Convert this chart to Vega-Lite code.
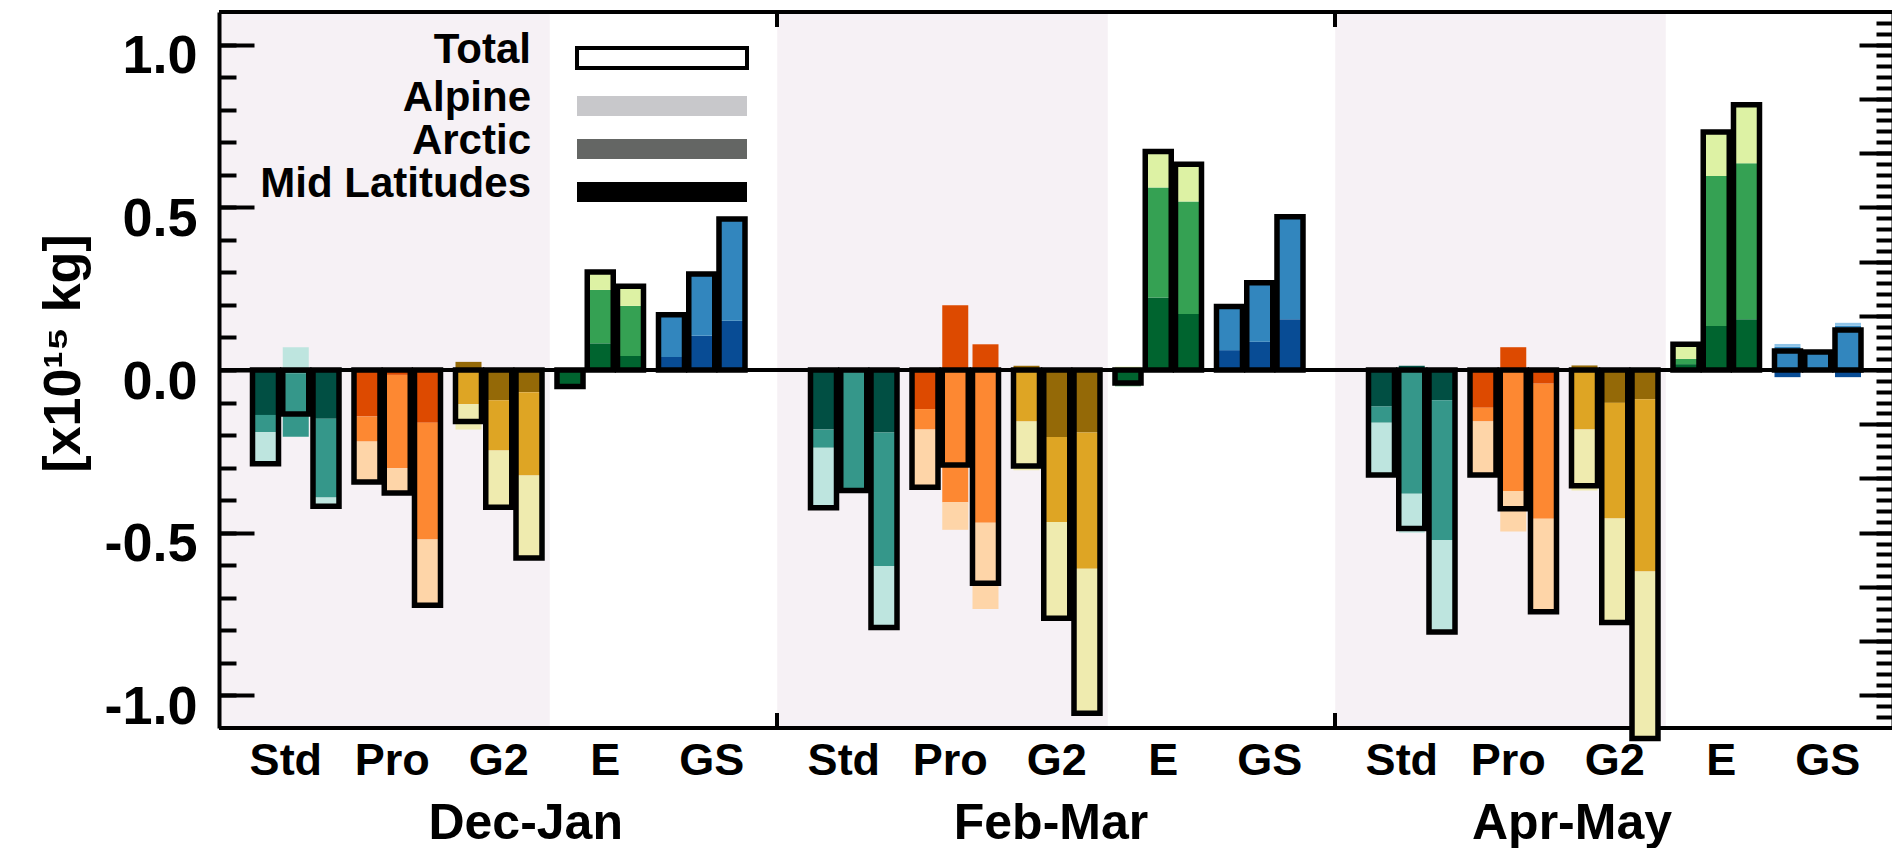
{
  "$schema": "https://vega.github.io/schema/vega-lite/v6.json",
  "background": "white",
  "padding": {"left": 37, "top": 10, "right": 1, "bottom": 0},
  "width": 1674,
  "height": 716,
  "data": {"values": [
    {"season":"Dec-Jan","model":"Std","run":1,"component":"Mid Latitudes","value":-0.138},
    {"season":"Dec-Jan","model":"Std","run":1,"component":"Arctic","value":-0.053},
    {"season":"Dec-Jan","model":"Std","run":1,"component":"Alpine","value":-0.097},
    {"season":"Dec-Jan","model":"Std","run":2,"component":"Mid Latitudes","value":-0.010},
    {"season":"Dec-Jan","model":"Std","run":2,"component":"Arctic","value":-0.195},
    {"season":"Dec-Jan","model":"Std","run":2,"component":"Alpine","value":0.070},
    {"season":"Dec-Jan","model":"Std","run":3,"component":"Mid Latitudes","value":-0.150},
    {"season":"Dec-Jan","model":"Std","run":3,"component":"Arctic","value":-0.242},
    {"season":"Dec-Jan","model":"Std","run":3,"component":"Alpine","value":-0.027},
    {"season":"Dec-Jan","model":"Pro","run":1,"component":"Mid Latitudes","value":-0.143},
    {"season":"Dec-Jan","model":"Pro","run":1,"component":"Arctic","value":-0.077},
    {"season":"Dec-Jan","model":"Pro","run":1,"component":"Alpine","value":-0.124},
    {"season":"Dec-Jan","model":"Pro","run":2,"component":"Mid Latitudes","value":-0.015},
    {"season":"Dec-Jan","model":"Pro","run":2,"component":"Arctic","value":-0.287},
    {"season":"Dec-Jan","model":"Pro","run":2,"component":"Alpine","value":-0.076},
    {"season":"Dec-Jan","model":"Pro","run":3,"component":"Mid Latitudes","value":-0.162},
    {"season":"Dec-Jan","model":"Pro","run":3,"component":"Arctic","value":-0.359},
    {"season":"Dec-Jan","model":"Pro","run":3,"component":"Alpine","value":-0.202},
    {"season":"Dec-Jan","model":"G2","run":1,"component":"Mid Latitudes","value":0.025},
    {"season":"Dec-Jan","model":"G2","run":1,"component":"Arctic","value":-0.105},
    {"season":"Dec-Jan","model":"G2","run":1,"component":"Alpine","value":-0.078},
    {"season":"Dec-Jan","model":"G2","run":2,"component":"Mid Latitudes","value":-0.093},
    {"season":"Dec-Jan","model":"G2","run":2,"component":"Arctic","value":-0.154},
    {"season":"Dec-Jan","model":"G2","run":2,"component":"Alpine","value":-0.175},
    {"season":"Dec-Jan","model":"G2","run":3,"component":"Mid Latitudes","value":-0.068},
    {"season":"Dec-Jan","model":"G2","run":3,"component":"Arctic","value":-0.256},
    {"season":"Dec-Jan","model":"G2","run":3,"component":"Alpine","value":-0.254},
    {"season":"Dec-Jan","model":"E","run":1,"component":"Mid Latitudes","value":-0.045},
    {"season":"Dec-Jan","model":"E","run":1,"component":"Arctic","value":-0.006},
    {"season":"Dec-Jan","model":"E","run":1,"component":"Alpine","value":0},
    {"season":"Dec-Jan","model":"E","run":2,"component":"Mid Latitudes","value":0.082},
    {"season":"Dec-Jan","model":"E","run":2,"component":"Arctic","value":0.164},
    {"season":"Dec-Jan","model":"E","run":2,"component":"Alpine","value":0.055},
    {"season":"Dec-Jan","model":"E","run":3,"component":"Mid Latitudes","value":0.043},
    {"season":"Dec-Jan","model":"E","run":3,"component":"Arctic","value":0.154},
    {"season":"Dec-Jan","model":"E","run":3,"component":"Alpine","value":0.060},
    {"season":"Dec-Jan","model":"GS","run":1,"component":"Mid Latitudes","value":0.040},
    {"season":"Dec-Jan","model":"GS","run":1,"component":"Arctic","value":0.130},
    {"season":"Dec-Jan","model":"GS","run":1,"component":"Alpine","value":0},
    {"season":"Dec-Jan","model":"GS","run":2,"component":"Mid Latitudes","value":0.105},
    {"season":"Dec-Jan","model":"GS","run":2,"component":"Arctic","value":0.190},
    {"season":"Dec-Jan","model":"GS","run":2,"component":"Alpine","value":0},
    {"season":"Dec-Jan","model":"GS","run":3,"component":"Mid Latitudes","value":0.151},
    {"season":"Dec-Jan","model":"GS","run":3,"component":"Arctic","value":0.313},
    {"season":"Dec-Jan","model":"GS","run":3,"component":"Alpine","value":0},
    {"season":"Feb-Mar","model":"Std","run":1,"component":"Mid Latitudes","value":-0.183},
    {"season":"Feb-Mar","model":"Std","run":1,"component":"Arctic","value":-0.056},
    {"season":"Feb-Mar","model":"Std","run":1,"component":"Alpine","value":-0.184},
    {"season":"Feb-Mar","model":"Std","run":2,"component":"Mid Latitudes","value":-0.008},
    {"season":"Feb-Mar","model":"Std","run":2,"component":"Arctic","value":-0.362},
    {"season":"Feb-Mar","model":"Std","run":2,"component":"Alpine","value":0},
    {"season":"Feb-Mar","model":"Std","run":3,"component":"Mid Latitudes","value":-0.192},
    {"season":"Feb-Mar","model":"Std","run":3,"component":"Arctic","value":-0.410},
    {"season":"Feb-Mar","model":"Std","run":3,"component":"Alpine","value":-0.189},
    {"season":"Feb-Mar","model":"Pro","run":1,"component":"Mid Latitudes","value":-0.120},
    {"season":"Feb-Mar","model":"Pro","run":1,"component":"Arctic","value":-0.063},
    {"season":"Feb-Mar","model":"Pro","run":1,"component":"Alpine","value":-0.177},
    {"season":"Feb-Mar","model":"Pro","run":2,"component":"Mid Latitudes","value":0.199},
    {"season":"Feb-Mar","model":"Pro","run":2,"component":"Arctic","value":-0.406},
    {"season":"Feb-Mar","model":"Pro","run":2,"component":"Alpine","value":-0.085},
    {"season":"Feb-Mar","model":"Pro","run":3,"component":"Mid Latitudes","value":0.079},
    {"season":"Feb-Mar","model":"Pro","run":3,"component":"Arctic","value":-0.469},
    {"season":"Feb-Mar","model":"Pro","run":3,"component":"Alpine","value":-0.265},
    {"season":"Feb-Mar","model":"G2","run":1,"component":"Mid Latitudes","value":0.013},
    {"season":"Feb-Mar","model":"G2","run":1,"component":"Arctic","value":-0.158},
    {"season":"Feb-Mar","model":"G2","run":1,"component":"Alpine","value":-0.150},
    {"season":"Feb-Mar","model":"G2","run":2,"component":"Mid Latitudes","value":-0.206},
    {"season":"Feb-Mar","model":"G2","run":2,"component":"Arctic","value":-0.261},
    {"season":"Feb-Mar","model":"G2","run":2,"component":"Alpine","value":-0.296},
    {"season":"Feb-Mar","model":"G2","run":3,"component":"Mid Latitudes","value":-0.192},
    {"season":"Feb-Mar","model":"G2","run":3,"component":"Arctic","value":-0.419},
    {"season":"Feb-Mar","model":"G2","run":3,"component":"Alpine","value":-0.444},
    {"season":"Feb-Mar","model":"E","run":1,"component":"Mid Latitudes","value":-0.047},
    {"season":"Feb-Mar","model":"E","run":1,"component":"Arctic","value":-0.003},
    {"season":"Feb-Mar","model":"E","run":1,"component":"Alpine","value":0.010},
    {"season":"Feb-Mar","model":"E","run":2,"component":"Mid Latitudes","value":0.223},
    {"season":"Feb-Mar","model":"E","run":2,"component":"Arctic","value":0.338},
    {"season":"Feb-Mar","model":"E","run":2,"component":"Alpine","value":0.110},
    {"season":"Feb-Mar","model":"E","run":3,"component":"Mid Latitudes","value":0.172},
    {"season":"Feb-Mar","model":"E","run":3,"component":"Arctic","value":0.346},
    {"season":"Feb-Mar","model":"E","run":3,"component":"Alpine","value":0.114},
    {"season":"Feb-Mar","model":"GS","run":1,"component":"Mid Latitudes","value":0.061},
    {"season":"Feb-Mar","model":"GS","run":1,"component":"Arctic","value":0.134},
    {"season":"Feb-Mar","model":"GS","run":1,"component":"Alpine","value":0},
    {"season":"Feb-Mar","model":"GS","run":2,"component":"Mid Latitudes","value":0.087},
    {"season":"Feb-Mar","model":"GS","run":2,"component":"Arctic","value":0.181},
    {"season":"Feb-Mar","model":"GS","run":2,"component":"Alpine","value":0},
    {"season":"Feb-Mar","model":"GS","run":3,"component":"Mid Latitudes","value":0.156},
    {"season":"Feb-Mar","model":"GS","run":3,"component":"Arctic","value":0.315},
    {"season":"Feb-Mar","model":"GS","run":3,"component":"Alpine","value":0},
    {"season":"Apr-May","model":"Std","run":1,"component":"Mid Latitudes","value":-0.112},
    {"season":"Apr-May","model":"Std","run":1,"component":"Arctic","value":-0.050},
    {"season":"Apr-May","model":"Std","run":1,"component":"Alpine","value":-0.161},
    {"season":"Apr-May","model":"Std","run":2,"component":"Mid Latitudes","value":0.013},
    {"season":"Apr-May","model":"Std","run":2,"component":"Arctic","value":-0.380},
    {"season":"Apr-May","model":"Std","run":2,"component":"Alpine","value":-0.120},
    {"season":"Apr-May","model":"Std","run":3,"component":"Mid Latitudes","value":-0.093},
    {"season":"Apr-May","model":"Std","run":3,"component":"Arctic","value":-0.429},
    {"season":"Apr-May","model":"Std","run":3,"component":"Alpine","value":-0.283},
    {"season":"Apr-May","model":"Pro","run":1,"component":"Mid Latitudes","value":-0.116},
    {"season":"Apr-May","model":"Pro","run":1,"component":"Arctic","value":-0.042},
    {"season":"Apr-May","model":"Pro","run":1,"component":"Alpine","value":-0.165},
    {"season":"Apr-May","model":"Pro","run":2,"component":"Mid Latitudes","value":0.070},
    {"season":"Apr-May","model":"Pro","run":2,"component":"Arctic","value":-0.372},
    {"season":"Apr-May","model":"Pro","run":2,"component":"Alpine","value":-0.124},
    {"season":"Apr-May","model":"Pro","run":3,"component":"Mid Latitudes","value":-0.042},
    {"season":"Apr-May","model":"Pro","run":3,"component":"Arctic","value":-0.415},
    {"season":"Apr-May","model":"Pro","run":3,"component":"Alpine","value":-0.286},
    {"season":"Apr-May","model":"G2","run":1,"component":"Mid Latitudes","value":0.014},
    {"season":"Apr-May","model":"G2","run":1,"component":"Arctic","value":-0.183},
    {"season":"Apr-May","model":"G2","run":1,"component":"Alpine","value":-0.187},
    {"season":"Apr-May","model":"G2","run":2,"component":"Mid Latitudes","value":-0.101},
    {"season":"Apr-May","model":"G2","run":2,"component":"Arctic","value":-0.355},
    {"season":"Apr-May","model":"G2","run":2,"component":"Alpine","value":-0.320},
    {"season":"Apr-May","model":"G2","run":3,"component":"Mid Latitudes","value":-0.090},
    {"season":"Apr-May","model":"G2","run":3,"component":"Arctic","value":-0.529},
    {"season":"Apr-May","model":"G2","run":3,"component":"Alpine","value":-0.513},
    {"season":"Apr-May","model":"E","run":1,"component":"Mid Latitudes","value":0.018},
    {"season":"Apr-May","model":"E","run":1,"component":"Arctic","value":0.016},
    {"season":"Apr-May","model":"E","run":1,"component":"Alpine","value":0.045},
    {"season":"Apr-May","model":"E","run":2,"component":"Mid Latitudes","value":0.135},
    {"season":"Apr-May","model":"E","run":2,"component":"Arctic","value":0.461},
    {"season":"Apr-May","model":"E","run":2,"component":"Alpine","value":0.135},
    {"season":"Apr-May","model":"E","run":3,"component":"Mid Latitudes","value":0.156},
    {"season":"Apr-May","model":"E","run":3,"component":"Arctic","value":0.479},
    {"season":"Apr-May","model":"E","run":3,"component":"Alpine","value":0.180},
    {"season":"Apr-May","model":"GS","run":1,"component":"Mid Latitudes","value":-0.022},
    {"season":"Apr-May","model":"GS","run":1,"component":"Arctic","value":0.071},
    {"season":"Apr-May","model":"GS","run":1,"component":"Alpine","value":0.009},
    {"season":"Apr-May","model":"GS","run":2,"component":"Mid Latitudes","value":-0.004},
    {"season":"Apr-May","model":"GS","run":2,"component":"Arctic","value":0.059},
    {"season":"Apr-May","model":"GS","run":2,"component":"Alpine","value":0},
    {"season":"Apr-May","model":"GS","run":3,"component":"Mid Latitudes","value":-0.022},
    {"season":"Apr-May","model":"GS","run":3,"component":"Arctic","value":0.136},
    {"season":"Apr-May","model":"GS","run":3,"component":"Alpine","value":0.009}
  ]},
  "transform": [
    {"stack": "value", "groupby": ["season", "model", "run"], "sort": [{"field": "component", "order": "descending"}], "as": ["v0", "v1"]}
  ],
  "resolve": {"scale": {"fill": "independent", "xOffset": "independent"}, "axis": {"x": "independent", "y": "independent"}},
  "layer": [
    {"transform": [{"filter": "datum.season === 'Dec-Jan' && datum.model === 'Std' && datum.run === 1 && datum.component === 'Arctic'"}],
     "mark": {"type": "rule", "stroke": "black", "strokeWidth": 4},
     "encoding": {"y": {"datum": 1.1, "type": "quantitative", "scale": {"domain": [-1.1, 1.1], "nice": false, "zero": false},
       "axis": {"orient": "left", "values": [-1, -0.5, 0, 0.5, 1], "ticks": true, "tickSize": -35, "tickWidth": 4, "tickColor": "black", "labels": false, "domain": false, "grid": false, "title": null, "zindex": 2}}}},
    {"transform": [{"filter": "datum.season === 'Dec-Jan' && datum.model === 'Std' && datum.run === 1 && datum.component === 'Arctic'"}],
     "mark": {"type": "rule", "stroke": "black", "strokeWidth": 4},
     "encoding": {"y": {"datum": 0, "type": "quantitative", "scale": {"domain": [-1.1, 1.1], "nice": false, "zero": false},
       "axis": {"orient": "left", "values": [-1, -0.9, -0.8, -0.7, -0.6, -0.5, -0.4, -0.3, -0.2, -0.1, 0, 0.1, 0.2, 0.3, 0.4, 0.5, 0.6, 0.7, 0.8, 0.9, 1], "ticks": true, "tickSize": -17, "tickWidth": 4, "tickColor": "black", "labels": false, "domain": false, "grid": false, "title": null, "zindex": 2}}}},
    {"transform": [{"filter": "datum.season === 'Dec-Jan' && datum.model === 'Std' && datum.run === 1 && datum.component === 'Arctic'"}],
     "mark": {"type": "rule", "stroke": "black", "strokeWidth": 4},
     "encoding": {"y": {"datum": -1.1, "type": "quantitative", "scale": {"domain": [-1.1, 1.1], "nice": false, "zero": false},
       "axis": {"orient": "right", "values": [-1, -0.8333, -0.6667, -0.5, -0.3333, -0.1667, 0, 0.1667, 0.3333, 0.5, 0.6667, 0.8333, 1], "ticks": true, "tickSize": -34, "tickWidth": 4, "tickColor": "black", "labels": false, "domain": true, "domainColor": "black", "domainWidth": 4, "grid": false, "title": null, "zindex": 2}}}},
    {"transform": [{"filter": "datum.season !== 'Dec-Jan' && datum.model === 'Std' && datum.run === 1 && datum.component === 'Arctic'"}],
     "mark": {"type": "rule", "stroke": "black", "strokeWidth": 4},
     "encoding": {
       "x": {"field": "season", "type": "nominal", "bandPosition": 0, "scale": {"domain": ["Dec-Jan", "Feb-Mar", "Apr-May"], "paddingInner": 0, "paddingOuter": 0},
         "axis": {"orient": "bottom", "bandPosition": 0.2961, "grid": true, "gridColor": "#f6f1f5", "gridOpacity": 1, "gridWidth": 330.5, "ticks": false, "labels": false, "domain": false, "title": null, "zindex": 0}},
       "y": {"datum": 1.1, "type": "quantitative", "scale": {"domain": [-1.1, 1.1], "nice": false, "zero": false},
         "axis": {"orient": "right", "values": [-1.0667,-1.0333,-1,-0.9667,-0.9333,-0.9,-0.8667,-0.8333,-0.8,-0.7667,-0.7333,-0.7,-0.6667,-0.6333,-0.6,-0.5667,-0.5333,-0.5,-0.4667,-0.4333,-0.4,-0.3667,-0.3333,-0.3,-0.2667,-0.2333,-0.2,-0.1667,-0.1333,-0.1,-0.0667,-0.0333,0,0.0333,0.0667,0.1,0.1333,0.1667,0.2,0.2333,0.2667,0.3,0.3333,0.3667,0.4,0.4333,0.4667,0.5,0.5333,0.5667,0.6,0.6333,0.6667,0.7,0.7333,0.7667,0.8,0.8333,0.8667,0.9,0.9333,0.9667,1,1.0333,1.0667], "ticks": true, "tickSize": -17, "tickWidth": 4, "tickColor": "black", "labels": false, "domain": false, "grid": false, "title": null, "zindex": 2}},
       "y2": {"datum": 1.0539}}},
    {"transform": [{"filter": "datum.season !== 'Dec-Jan' && datum.model === 'Std' && datum.run === 1 && datum.component === 'Arctic'"}],
     "mark": {"type": "rule", "stroke": "black", "strokeWidth": 4},
     "encoding": {
       "x": {"field": "season", "type": "nominal", "bandPosition": 0,
         "axis": {"orient": "bottom", "ticks": false, "domain": false, "grid": false, "labelFont": "Liberation Sans", "labelFontSize": 50, "labelFontWeight": "bold", "labelColor": "black", "labelPadding": 110, "labelBaseline": "alphabetic", "labelAngle": 0, "labelAlign": "center", "labelOverlap": false, "labelLimit": 600,
           "labelOffset": {"condition": [{"test": "datum.value === 'Dec-Jan'", "value": 27.7}, {"test": "datum.value === 'Feb-Mar'", "value": -5}], "value": -42},
           "title": null, "zindex": 1}},
       "y": {"datum": -1.1, "type": "quantitative", "scale": {"domain": [-1.1, 1.1], "nice": false, "zero": false}, "axis": null},
       "y2": {"datum": -1.0539}}},
    {"transform": [{"filter": "datum.run === 1 && datum.component === 'Mid Latitudes'"}],
     "mark": {"type": "bar"},
     "encoding": {
       "x": {"field": "season", "type": "nominal", "axis": null},
       "xOffset": {"field": "model", "type": "nominal", "scale": {"domain": ["Std","Pro","G2","E","GS"], "paddingInner": 0.7438, "paddingOuter": 0.6207, "align": 0.2659}},
       "y": {"field": "v0", "type": "quantitative", "scale": {"domain": [-1.1, 1.1], "nice": false, "zero": false},
         "axis": {"orient": "left", "values": [-1, -0.5, 0, 0.5, 1], "labelExpr": "datum.value < 0 ? '-' + format(-datum.value, '.1f') : format(datum.value, '.1f')", "ticks": false, "domain": true, "domainColor": "black", "domainWidth": 4, "labelFont": "Liberation Sans", "labelFontSize": 54, "labelFontWeight": "bold", "labelColor": "black", "labelPadding": 22, "labelBaseline": "alphabetic", "labelOffset": 28, "grid": false, "title": "[x10¹⁵ kg]", "titleFont": "Liberation Sans", "titleFontSize": 52, "titleFontWeight": "bold", "titleColor": "black", "titleX": -156, "titleY": 341, "titleAngle": -90, "titleAlign": "center", "titleBaseline": "middle", "zindex": 2}},
       "y2": {"field": "v1"},
       "fill": {"field": "model", "type": "nominal", "scale": {"domain": ["Std","Pro","G2","E","GS"], "range": ["#014f43","#dd4a00","#946907","#00642f","#084c95"]}, "legend": null}
     }},
    {"transform": [{"filter": "datum.run === 2 && datum.component === 'Mid Latitudes'"}],
     "mark": {"type": "bar"},
     "encoding": {"x": {"field": "season", "type": "nominal", "axis": null},
       "xOffset": {"field": "model", "type": "nominal", "scale": {"domain": ["Std","Pro","G2","E","GS"], "paddingInner": 0.7438, "paddingOuter": 0.6207, "align": 0.506}},
       "y": {"field": "v0", "type": "quantitative", "scale": {"domain": [-1.1, 1.1], "nice": false, "zero": false}, "axis": null}, "y2": {"field": "v1"},
       "fill": {"field": "model", "type": "nominal", "scale": {"domain": ["Std","Pro","G2","E","GS"], "range": ["#014f43","#dd4a00","#946907","#00642f","#084c95"]}, "legend": null}}},
    {"transform": [{"filter": "datum.run === 3 && datum.component === 'Mid Latitudes'"}],
     "mark": {"type": "bar"},
     "encoding": {"x": {"field": "season", "type": "nominal", "axis": null},
       "xOffset": {"field": "model", "type": "nominal", "scale": {"domain": ["Std","Pro","G2","E","GS"], "paddingInner": 0.7438, "paddingOuter": 0.6207, "align": 0.746}},
       "y": {"field": "v0", "type": "quantitative", "scale": {"domain": [-1.1, 1.1], "nice": false, "zero": false}, "axis": null}, "y2": {"field": "v1"},
       "fill": {"field": "model", "type": "nominal", "scale": {"domain": ["Std","Pro","G2","E","GS"], "range": ["#014f43","#dd4a00","#946907","#00642f","#084c95"]}, "legend": null}}},
    {"transform": [{"filter": "datum.run === 1 && datum.component === 'Arctic'"}],
     "mark": {"type": "bar"},
     "encoding": {"x": {"field": "season", "type": "nominal", "axis": null},
       "xOffset": {"field": "model", "type": "nominal", "scale": {"domain": ["Std","Pro","G2","E","GS"], "paddingInner": 0.7438, "paddingOuter": 0.6207, "align": 0.2659}},
       "y": {"field": "v0", "type": "quantitative", "scale": {"domain": [-1.1, 1.1], "nice": false, "zero": false}, "axis": null}, "y2": {"field": "v1"},
       "fill": {"field": "model", "type": "nominal", "scale": {"domain": ["Std","Pro","G2","E","GS"], "range": ["#35978a","#fd8832","#dea524","#35a153","#3286be"]}, "legend": null}}},
    {"transform": [{"filter": "datum.run === 2 && datum.component === 'Arctic'"}],
     "mark": {"type": "bar"},
     "encoding": {"x": {"field": "season", "type": "nominal", "axis": null},
       "xOffset": {"field": "model", "type": "nominal", "scale": {"domain": ["Std","Pro","G2","E","GS"], "paddingInner": 0.7438, "paddingOuter": 0.6207, "align": 0.506}},
       "y": {"field": "v0", "type": "quantitative", "scale": {"domain": [-1.1, 1.1], "nice": false, "zero": false}, "axis": null}, "y2": {"field": "v1"},
       "fill": {"field": "model", "type": "nominal", "scale": {"domain": ["Std","Pro","G2","E","GS"], "range": ["#35978a","#fd8832","#dea524","#35a153","#3286be"]}, "legend": null}}},
    {"transform": [{"filter": "datum.run === 3 && datum.component === 'Arctic'"}],
     "mark": {"type": "bar"},
     "encoding": {"x": {"field": "season", "type": "nominal", "axis": null},
       "xOffset": {"field": "model", "type": "nominal", "scale": {"domain": ["Std","Pro","G2","E","GS"], "paddingInner": 0.7438, "paddingOuter": 0.6207, "align": 0.746}},
       "y": {"field": "v0", "type": "quantitative", "scale": {"domain": [-1.1, 1.1], "nice": false, "zero": false}, "axis": null}, "y2": {"field": "v1"},
       "fill": {"field": "model", "type": "nominal", "scale": {"domain": ["Std","Pro","G2","E","GS"], "range": ["#35978a","#fd8832","#dea524","#35a153","#3286be"]}, "legend": null}}},
    {"transform": [{"filter": "datum.run === 1 && datum.component === 'Alpine'"}],
     "mark": {"type": "bar"},
     "encoding": {"x": {"field": "season", "type": "nominal", "axis": null},
       "xOffset": {"field": "model", "type": "nominal", "scale": {"domain": ["Std","Pro","G2","E","GS"], "paddingInner": 0.7438, "paddingOuter": 0.6207, "align": 0.2659}},
       "y": {"field": "v0", "type": "quantitative", "scale": {"domain": [-1.1, 1.1], "nice": false, "zero": false}, "axis": null}, "y2": {"field": "v1"},
       "fill": {"field": "model", "type": "nominal", "scale": {"domain": ["Std","Pro","G2","E","GS"], "range": ["#bee5df","#fed5a8","#efebaf","#ddf2a4","#8fc4e8"]}, "legend": null}}},
    {"transform": [{"filter": "datum.run === 2 && datum.component === 'Alpine'"}],
     "mark": {"type": "bar"},
     "encoding": {"x": {"field": "season", "type": "nominal", "axis": null},
       "xOffset": {"field": "model", "type": "nominal", "scale": {"domain": ["Std","Pro","G2","E","GS"], "paddingInner": 0.7438, "paddingOuter": 0.6207, "align": 0.506}},
       "y": {"field": "v0", "type": "quantitative", "scale": {"domain": [-1.1, 1.1], "nice": false, "zero": false}, "axis": null}, "y2": {"field": "v1"},
       "fill": {"field": "model", "type": "nominal", "scale": {"domain": ["Std","Pro","G2","E","GS"], "range": ["#bee5df","#fed5a8","#efebaf","#ddf2a4","#8fc4e8"]}, "legend": null}}},
    {"transform": [{"filter": "datum.run === 3 && datum.component === 'Alpine'"}],
     "mark": {"type": "bar"},
     "encoding": {"x": {"field": "season", "type": "nominal", "axis": null},
       "xOffset": {"field": "model", "type": "nominal", "scale": {"domain": ["Std","Pro","G2","E","GS"], "paddingInner": 0.7438, "paddingOuter": 0.6207, "align": 0.746}},
       "y": {"field": "v0", "type": "quantitative", "scale": {"domain": [-1.1, 1.1], "nice": false, "zero": false}, "axis": null}, "y2": {"field": "v1"},
       "fill": {"field": "model", "type": "nominal", "scale": {"domain": ["Std","Pro","G2","E","GS"], "range": ["#bee5df","#fed5a8","#efebaf","#ddf2a4","#8fc4e8"]}, "legend": null}}},
    {"transform": [{"filter": "datum.run === 1"}],
     "mark": {"type": "bar", "fill": "transparent", "stroke": "black", "strokeWidth": 5.5},
     "encoding": {"x": {"field": "season", "type": "nominal", "axis": null},
       "xOffset": {"field": "model", "type": "nominal", "scale": {"domain": ["Std","Pro","G2","E","GS"], "paddingInner": 0.7438, "paddingOuter": 0.6207, "align": 0.2659}},
       "y": {"aggregate": "sum", "field": "value", "type": "quantitative", "scale": {"domain": [-1.1, 1.1], "nice": false, "zero": false}, "axis": null}}},
    {"transform": [{"filter": "datum.run === 2"}],
     "mark": {"type": "bar", "fill": "transparent", "stroke": "black", "strokeWidth": 5.5},
     "encoding": {"x": {"field": "season", "type": "nominal", "axis": null},
       "xOffset": {"field": "model", "type": "nominal", "scale": {"domain": ["Std","Pro","G2","E","GS"], "paddingInner": 0.7438, "paddingOuter": 0.6207, "align": 0.506}},
       "y": {"aggregate": "sum", "field": "value", "type": "quantitative", "scale": {"domain": [-1.1, 1.1], "nice": false, "zero": false}, "axis": null}}},
    {"transform": [{"filter": "datum.run === 3"}],
     "mark": {"type": "bar", "fill": "transparent", "stroke": "black", "strokeWidth": 5.5},
     "encoding": {"x": {"field": "season", "type": "nominal", "axis": null},
       "xOffset": {"field": "model", "type": "nominal", "scale": {"domain": ["Std","Pro","G2","E","GS"], "paddingInner": 0.7438, "paddingOuter": 0.6207, "align": 0.746}},
       "y": {"aggregate": "sum", "field": "value", "type": "quantitative", "scale": {"domain": [-1.1, 1.1], "nice": false, "zero": false}, "axis": null}}},
    {"transform": [{"filter": "datum.run === 2 && datum.component === 'Arctic'"}],
     "mark": {"type": "text", "font": "Liberation Sans", "fontSize": 45, "fontWeight": "bold", "color": "black", "baseline": "alphabetic", "align": "center", "dy": 47},
     "encoding": {"x": {"field": "season", "type": "nominal", "axis": null},
       "xOffset": {"field": "model", "type": "nominal", "scale": {"domain": ["Std","Pro","G2","E","GS"], "paddingInner": 0.7438, "paddingOuter": 0.6207, "align": 0.506}},
       "y": {"datum": -1.1, "type": "quantitative", "scale": {"domain": [-1.1, 1.1], "nice": false, "zero": false}, "axis": null},
       "text": {"field": "model", "type": "nominal"}}},
    {"transform": [{"filter": "datum.season === 'Dec-Jan' && datum.model === 'Std' && datum.run === 2"}],
     "mark": {"type": "point", "size": 0, "filled": true, "opacity": 1},
     "encoding": {
       "fill": {"field": "component", "type": "nominal",
         "scale": {"domain": ["Total", "Alpine", "Arctic", "Mid Latitudes"], "range": ["#ffffff", "#c8c8cb", "#646664", "#000000"]},
         "legend": {"orient": "none", "legendX": 422, "legendY": 25, "title": null, "padding": 0, "symbolType": "M-8.5,-1H8.5V1H-8.5Z", "symbolSize": 400, "symbolStrokeWidth": 0, "symbolOpacity": 1, "labelFont": "Liberation Sans", "labelFontSize": 42, "labelFontWeight": "bold", "labelColor": "black", "labelAlign": "right", "labelOffset": -152, "labelBaseline": "alphabetic", "labelLimit": 500, "rowPadding": 1,
           "encode": {"symbols": {"update": {"stroke": {"value": "black"}, "strokeWidth": {"signal": "datum.value === 'Total' ? 4 : 0"}}}, "labels": {"update": {"dy": {"value": 5}}}}}
       }
     }}
  ],
  "config": {"view": {"stroke": null}, "font": "Liberation Sans"}
}
